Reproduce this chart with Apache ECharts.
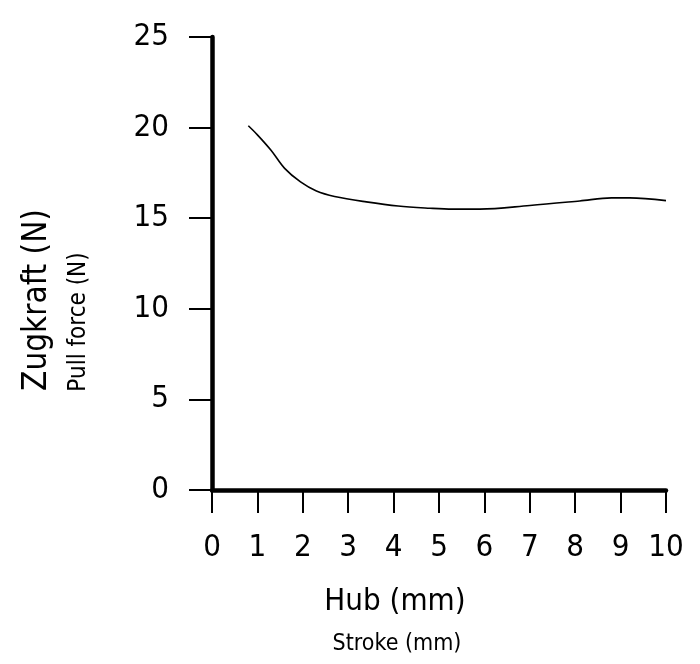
<!DOCTYPE html>
<html>
<head>
<meta charset="utf-8">
<script src="https://cdn.jsdelivr.net/npm/echarts@6/dist/echarts.min.js"></script>
<style>
html,body{margin:0;padding:0;background:#fff;}
#chart{width:700px;height:664px;}
</style>
</head>
<body>
<div id="chart"></div>
<script>
// Data
var strokeMm = [0.8, 1.0, 1.3, 1.6, 1.95, 2.3, 2.7, 3.4, 4.1, 4.8, 5.3, 5.9, 7.0, 8.1, 8.8, 9.2, 10.0];
var pullForceN = [20.1, 19.6, 18.75, 17.75, 17.0, 16.5, 16.2, 15.9, 15.67, 15.55, 15.5, 15.5, 15.7, 15.95, 16.12, 16.12, 15.97];
var xTicks = [0, 1, 2, 3, 4, 5, 6, 7, 8, 9, 10];
var yTicks = [0, 5, 10, 15, 20, 25];
var xTitle = 'Hub (mm)';
var xSubTitle = 'Stroke (mm)';
var yTitle = 'Zugkraft (N)';
var ySubTitle = 'Pull force (N)';

var FONT = "'DejaVu Sans Condensed', 'DejaVu Sans', sans-serif";

var points = strokeMm.map(function (x, i) { return [x, pullForceN[i]]; });

var chart = echarts.init(document.getElementById('chart'), null, {renderer: 'canvas'});
chart.setOption({
  animation: false,
  backgroundColor: '#ffffff',
  grid: {left: 212, right: 34, top: 37, bottom: 174, containLabel: false},
  xAxis: {
    type: 'value',
    min: xTicks[0],
    max: xTicks[xTicks.length - 1],
    interval: 1,
    axisLine: {show: true, onZero: false, lineStyle: {color: '#000', width: 4.5}},
    axisTick: {show: true, inside: false, length: 23, lineStyle: {color: '#000', width: 2}},
    splitLine: {show: false},
    axisLabel: {
      margin: 42, color: '#000', fontFamily: FONT, fontSize: 31, lineHeight: 31,
      verticalAlign: 'top'
    }
  },
  yAxis: {
    type: 'value',
    min: yTicks[0],
    max: yTicks[yTicks.length - 1],
    interval: 5,
    axisLine: {show: true, onZero: false, lineStyle: {color: '#000', width: 4.5}},
    axisTick: {show: true, inside: false, length: 23, lineStyle: {color: '#000', width: 2}},
    splitLine: {show: false},
    axisLabel: {margin: 43, color: '#000', fontFamily: FONT, fontSize: 31}
  },
  graphic: [
    {type: 'text', x: 395, y: 602, style: {text: xTitle, font: '31px ' + FONT, fill: '#000', textAlign: 'center', textVerticalAlign: 'middle'}},
    {type: 'text', x: 397, y: 644, style: {text: xSubTitle, font: '23px ' + FONT, fill: '#000', textAlign: 'center', textVerticalAlign: 'middle'}},
    {type: 'text', x: 37, y: 300, rotation: Math.PI / 2, style: {text: yTitle, font: '33px ' + FONT, fill: '#000', textAlign: 'center', textVerticalAlign: 'middle'}},
    {type: 'text', x: 79, y: 322, rotation: Math.PI / 2, style: {text: ySubTitle, font: '24px ' + FONT, fill: '#000', textAlign: 'center', textVerticalAlign: 'middle'}}
  ],
  series: [{
    type: 'line',
    data: points,
    smooth: 0.35,
    showSymbol: false,
    lineStyle: {color: '#000', width: 1.6}
  }]
});
</script>
</body>
</html>
